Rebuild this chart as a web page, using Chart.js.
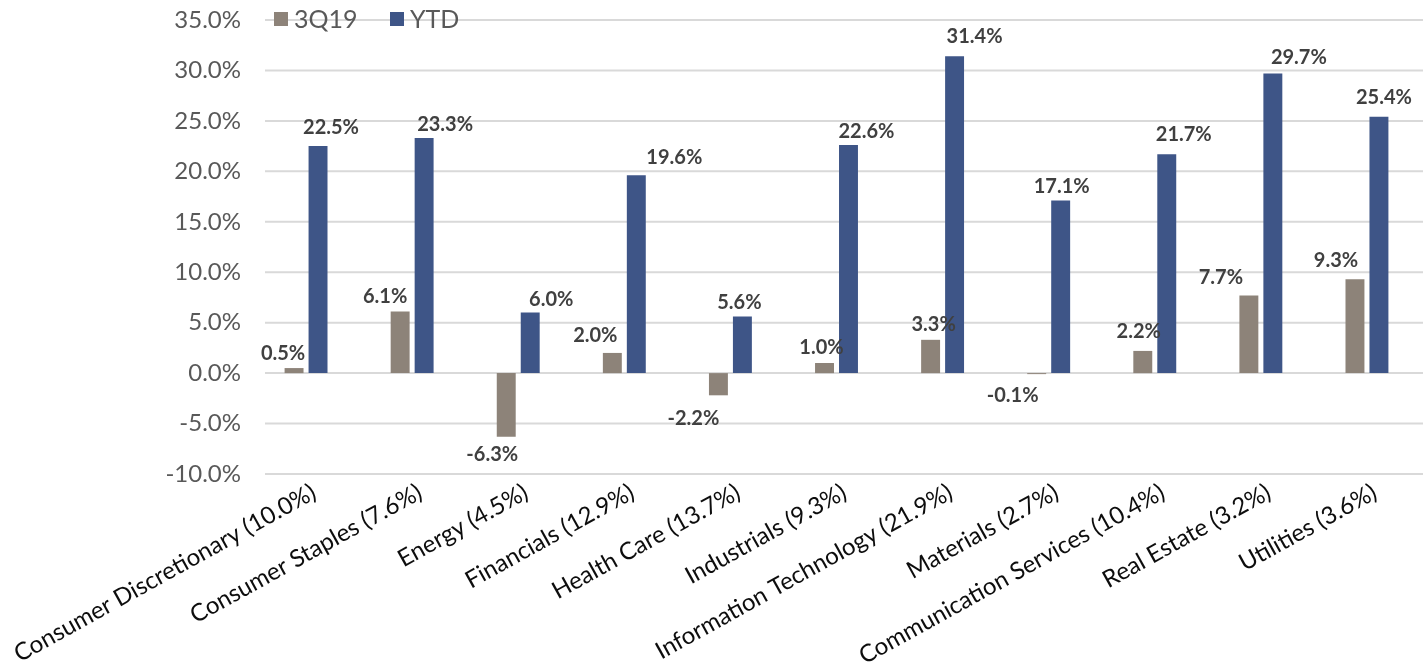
<!DOCTYPE html>
<html><head><meta charset="utf-8">
<script src="https://cdn.jsdelivr.net/npm/chart.js@4.4.1/dist/chart.umd.min.js"></script>
<style>html,body{margin:0;padding:0;background:#fff}#wrap{width:1423px;height:665px;position:relative}</style>
</head><body><div id="wrap"><canvas id="c" width="1423" height="665"></canvas></div>
<script>
const categories = ['Consumer Discretionary (10.0%)','Consumer Staples (7.6%)','Energy (4.5%)','Financials (12.9%)','Health Care (13.7%)','Industrials (9.3%)','Information Technology (21.9%)','Materials (2.7%)','Communication Services (10.4%)','Real Estate (3.2%)','Utilities (3.6%)'];
const seriesNames = ['3Q19','YTD'];
const q3Values = [0.5, 6.1, -6.3, 2.0, -2.2, 1.0, 3.3, -0.1, 2.2, 7.7, 9.3];
const ytdValues = [22.5, 23.3, 6.0, 19.6, 5.6, 22.6, 31.4, 17.1, 21.7, 29.7, 25.4];
const yTickValues = [-10, -5, 0, 5, 10, 15, 20, 25, 30, 35];

// label nudges (style only, pixels relative to bar end)
const q3LabelDx = [-11,-15,-14,-17,-25,-3,3,-24,-4,-28,-19];
const q3LabelDy = [-15,-15,18,-17,23,-15,-15,21,-19,-18,-19];
const ytdLabelDx = [13,21,21,38,-3,18,20,1,17,26,5];
const ytdLabelDy = [-19,-13,-13,-18,-14,-14,-20,-14,-20,-16,-19];

const COL_Q3 = '#8d8379';
const COL_YTD = '#3e5587';
const FONT = 'Lato, "Noto Sans", sans-serif';

const gridPlugin = {
  id: 'customGrid',
  beforeDatasetsDraw(chart) {
    const {ctx, chartArea, scales} = chart;
    ctx.save();
    ctx.strokeStyle = '#d9d9d9';
    ctx.lineWidth = 2;
    yTickValues.forEach(v => {
      const y = scales.y.getPixelForValue(v);
      ctx.beginPath();
      ctx.moveTo(chartArea.left + 12, y);
      ctx.lineTo(chart.width, y);
      ctx.stroke();
    });
    ctx.restore();
  }
};

const labelPlugin = {
  id: 'valueLabels',
  afterDatasetsDraw(chart) {
    const {ctx} = chart;
    ctx.save();
    ctx.font = 'bold 20px ' + FONT;
    ctx.fillStyle = '#404040';
    ctx.textAlign = 'center';
    ctx.textBaseline = 'middle';
    const dxs = [q3LabelDx, ytdLabelDx], dys = [q3LabelDy, ytdLabelDy];
    chart.data.datasets.forEach((ds, di) => {
      const meta = chart.getDatasetMeta(di);
      meta.data.forEach((el, i) => {
        const v = ds.data[i];
        ctx.fillText(v.toFixed(1) + '%', el.x + dxs[di][i], el.y + dys[di][i]);
      });
    });
    ctx.restore();
  }
};

const legendPlugin = {
  id: 'customLegend',
  afterDraw(chart) {
    const {ctx} = chart;
    ctx.save();
    ctx.font = '25px ' + FONT;
    ctx.textBaseline = 'middle';
    ctx.textAlign = 'left';
    const xs = [274, 390];
    chart.data.datasets.forEach((ds, di) => {
      ctx.fillStyle = ds.backgroundColor;
      ctx.fillRect(xs[di], 12, 14, 14);
      ctx.fillStyle = '#595959';
      ctx.fillText(ds.label, xs[di] + 20, 20);
    });
    ctx.restore();
  }
};

new Chart(document.getElementById('c'), {
  type: 'bar',
  data: {
    labels: categories,
    datasets: [
      {label: seriesNames[0], data: q3Values, backgroundColor: COL_Q3},
      {label: seriesNames[1], data: ytdValues, backgroundColor: COL_YTD}
    ]
  },
  options: {
    responsive: false,
    animation: false,
    layout: {padding: {top: 20, right: 3, left: 0, bottom: 0}},
    datasets: {bar: {categoryPercentage: 0.452, barPercentage: 0.79}},
    plugins: {legend: {display: false}, tooltip: {enabled: false}},
    scales: {
      x: {
        grid: {display: false, drawTicks: false},
        border: {display: false},
        afterFit(s) { s.height = 191; s.paddingLeft = 0; s.paddingRight = 0; },
        ticks: {
          autoSkip: false, maxRotation: 29, minRotation: 29,
          padding: 4, labelOffset: 8,
          color: '#0d0d0d', font: {family: FONT, size: 24}
        }
      },
      y: {
        min: -10, max: 35,
        grid: {display: false, drawTicks: false},
        border: {display: false},
        afterFit(s) { s.width = 253; s.paddingTop = 0; s.paddingBottom = 0; },
        afterBuildTicks(s) { s.ticks = yTickValues.map(v => ({value: v})); },
        ticks: {
          padding: 12, color: '#595959', font: {family: FONT, size: 24},
          callback: v => v.toFixed(1) + '%'
        }
      }
    }
  },
  plugins: [gridPlugin, labelPlugin, legendPlugin]
});
</script></body></html>
